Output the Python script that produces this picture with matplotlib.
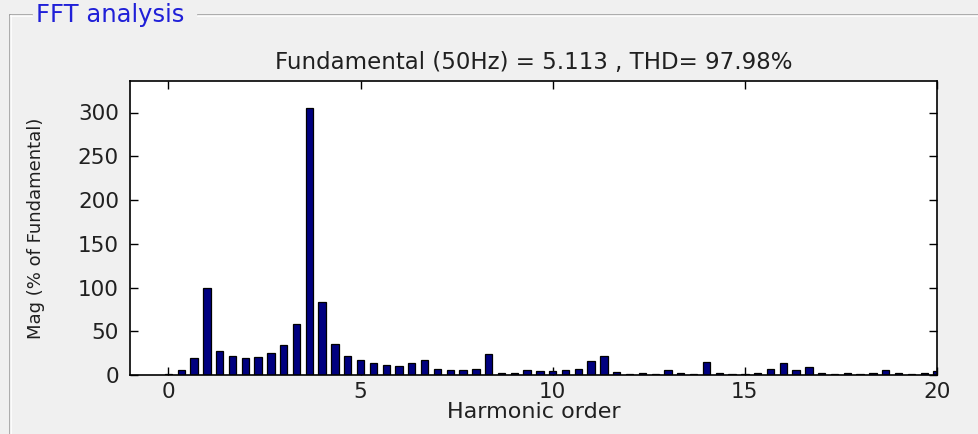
import numpy as np
import matplotlib
matplotlib.use("Agg")
import matplotlib.pyplot as plt
from matplotlib.lines import Line2D

# Harmonic order (resolution 1/3 of fundamental) and magnitudes (% of fundamental)
harmonic_order = np.linspace(0, 20, 61)
magnitude = [1.0, 5.5, 19.0, 100.0, 27.0, 22.0, 19.0, 21.0, 25.5, 34.0,
             58.5, 305.0, 83.0, 35.0, 22.0, 17.5, 14.0, 11.0, 10.7, 14.0,
             17.3, 7.2, 5.7, 5.7, 7.2, 23.6, 2.7, 2.7, 5.7, 4.2,
             4.5, 5.7, 7.2, 15.5, 22.0, 3.8, 0.8, 2.5, 1.0, 5.7,
             2.7, 1.0, 15.3, 2.7, 1.0, 1.0, 2.7, 7.2, 14.1, 5.7,
             8.8, 2.7, 1.0, 2.7, 1.0, 2.7, 5.7, 2.7, 1.0, 2.7,
             4.5]
x_ticks = [0, 5, 10, 15, 20]
y_ticks = [0, 50, 100, 150, 200, 250, 300]
title_text = "Fundamental (50Hz) = 5.113 , THD= 97.98%"
panel_title = "FFT analysis"

W, H = 979, 434
fig = plt.figure(figsize=(W / 100, H / 100), dpi=100)
fig.patch.set_facecolor("#F0F0F0")
plt.rcParams["font.family"] = ["DejaVu Sans"]

# axes rectangle in pixels: left 130, right 937, top 81, bottom 375
l, r, t, b = 130, 937, 81, 375
ax = fig.add_axes([l / W, 1 - b / H, (r - l) / W, (b - t) / H])
ax.set_facecolor("white")
ax.bar(harmonic_order, magnitude, width=0.19, color="#000080",
       edgecolor="black", linewidth=0.9, zorder=2)
ax.set_xlim(-1, 20)
ax.set_ylim(0, 336)
ax.set_xticks(x_ticks)
ax.set_yticks(y_ticks)
ax.tick_params(direction="in", length=6, width=1, top=True, right=True,
               labelsize=15.5, pad=5, color="black", labelcolor="#202020")
ax.tick_params(axis="y", pad=8)
for s in ax.spines.values():
    s.set_linewidth(1.2)
    s.set_color("black")
ax.set_title(title_text, fontsize=16.5, pad=9, color="#202020")
ax.set_xlabel("Harmonic order", fontsize=16, labelpad=0, color="#202020")
ax.set_ylabel("Mag (% of Fundamental)", fontsize=13, color="#202020")
ax.yaxis.set_label_coords((45 - l) / (r - l), 0.5)

# Group box frame
def px_line(x0, y0, x1, y1, color):
    fig.add_artist(Line2D([x0 / W, x1 / W], [1 - y0 / H, 1 - y1 / H],
                          transform=fig.transFigure, color=color, lw=1.2))

px_line(10, 15, 10, 434, "#A0A0A0")
px_line(10, 15, 32, 15, "#A0A0A0")
px_line(198, 15, 979, 15, "#A0A0A0")
px_line(11, 16, 11, 434, "white")
px_line(11, 16, 32, 16, "white")
px_line(198, 16, 979, 16, "white")
fig.text(36 / W, 1 - 15 / H, panel_title, color="#2020D8", fontsize=17.5,
         ha="left", va="center")

fig.savefig("out.png", dpi=100, facecolor=fig.get_facecolor())
